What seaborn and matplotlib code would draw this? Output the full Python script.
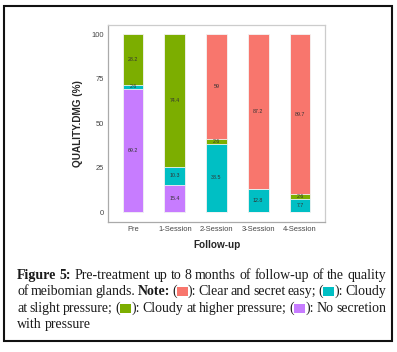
import numpy as np
import pandas as pd
import matplotlib
matplotlib.use("Agg")
import matplotlib.pyplot as plt
import seaborn as sns
from matplotlib.patches import Rectangle

# data
sessions = ["Pre", "1-Session", "2-Session", "3-Session", "4-Session"]
no_secretion = [69.2, 15.4, 0.0, 0.0, 0.0]       # purple
cloudy_slight = [2.6, 10.3, 38.5, 12.8, 7.7]     # cyan
cloudy_higher = [28.2, 74.4, 2.6, 0.0, 2.6]      # green
clear_easy = [0.0, 0.0, 59.0, 87.2, 89.7]        # red

layers = [("No secretion", no_secretion, "#C77CFF"),
          ("Cloudy slight", cloudy_slight, "#00BFC4"),
          ("Cloudy higher", cloudy_higher, "#7CAE00"),
          ("Clear easy", clear_easy, "#F8766D")]

W, H = 397, 352
sns.set_theme(style="white")
plt.rcParams["font.family"] = ["Liberation Sans", "DejaVu Sans"]
fig = plt.figure(figsize=(W / 100, H / 100), dpi=100)
ax = fig.add_axes([108 / W, 1 - 222 / H, 217 / W, 197 / H])

# stacked bars: draw cumulative totals from the top layer down
rows = []
bottom = np.zeros(len(sessions))
for name, vals, col in layers:
    top = bottom + np.array(vals)
    for s, b, t, v in zip(sessions, bottom, top, vals):
        rows.append(dict(session=s, layer=name, bottom=b, top=t, value=v))
    bottom = top
df = pd.DataFrame(rows)

for name, vals, col in reversed(layers):
    sub = df[df.layer == name]
    sns.barplot(data=sub, x="session", y="top", order=sessions, color=col,
                width=0.5, saturation=1, edgecolor="#f4f4f4", linewidth=0.6, ax=ax)

for _, r in df.iterrows():
    if r.value > 0:
        ax.text(sessions.index(r.session), (r.bottom + r.top) / 2, f"{r.value:g}",
                ha="center", va="center", fontsize=3.8, color="#333333")

ax.set_xlim(-0.6, 4.6)
ax.set_ylim(-5.5, 105.3)
ax.set_yticks([0, 25, 50, 75, 100])
ax.tick_params(axis="both", labelsize=5.4, colors="#444444", length=2, width=0.5, pad=1.2)
ax.tick_params(axis="both", color="#999999")
ax.set_xlabel("Follow-up", fontsize=7.2, fontweight="bold", labelpad=5)
ax.set_ylabel("QUALITY.DMG (%)", fontsize=7.2, fontweight="bold", labelpad=6)
for side in ["left", "bottom"]:
    ax.spines[side].set_color("#aaaaaa")
    ax.spines[side].set_linewidth(0.9)
for side in ["top", "right"]:
    ax.spines[side].set_color("#cccccc")
    ax.spines[side].set_linewidth(0.9)

# outer black frame
fig.patches.append(Rectangle((4 / W, 1 - 341 / H), 388 / W, 335 / H, transform=fig.transFigure,
                             fill=False, edgecolor="#111111", linewidth=1.5))

# caption, justified lines with bold runs and colour swatches
serif = ["Liberation Serif", "DejaVu Serif"]
fs = 10.0
caption = [
    [[("Figure", "bold")], [("5:", "bold")], [("Pre-treatment", "normal")], [("up", "normal")],
     [("to", "normal")], [("8", "normal")], [("months", "normal")], [("of", "normal")],
     [("follow-up", "normal")], [("of", "normal")], [("the", "normal")], [("quality", "normal")]],
    [[("of", "normal")], [("meibomian", "normal")], [("glands.", "normal")], [("Note:", "bold")],
     [("(", "normal"), ("box", "#F8766D"), ("):", "normal")], [("Clear", "normal")], [("and", "normal")],
     [("secret", "normal")], [("easy;", "normal")],
     [("(", "normal"), ("box", "#00BFC4"), ("):", "normal")], [("Cloudy", "normal")]],
    [[("at", "normal")], [("slight", "normal")], [("pressure;", "normal")],
     [("(", "normal"), ("box", "#7CAE00"), ("):", "normal")], [("Cloudy", "normal")], [("at", "normal")],
     [("higher", "normal")], [("pressure;", "normal")],
     [("(", "normal"), ("box", "#C77CFF"), ("):", "normal")], [("No", "normal")], [("secretion", "normal")]],
    [[("with", "normal")], [("pressure", "normal")]],
]
line_y = [279, 295, 312, 328]   # baselines in pixels from top
x0, x1 = 17, 386
box_w, box_h = 11, 9

fig.canvas.draw()
renderer = fig.canvas.get_renderer()


def run_width(text, weight):
    t = fig.text(0, 0, text, fontsize=fs, family=serif, fontweight=weight)
    w = t.get_window_extent(renderer).width
    t.remove()
    return w


space_w = 3.2
for li, (words, yb) in enumerate(zip(caption, line_y)):
    widths = []
    for word in words:
        widths.append(sum(box_w if txt == "box" else run_width(txt, wt) for txt, wt in word))
    justify = li < len(caption) - 1
    gap = (x1 - x0 - sum(widths)) / (len(words) - 1) if justify else space_w
    x = x0
    for word, ww in zip(words, widths):
        for txt, wt in word:
            if txt == "box":
                fig.patches.append(Rectangle((x / W, 1 - (yb + 1) / H), box_w / W, box_h / H,
                                             transform=fig.transFigure, color=wt, linewidth=0))
                x += box_w
            else:
                fig.text(x / W, 1 - yb / H, txt, fontsize=fs, family=serif, fontweight=wt,
                         ha="left", va="baseline", color="#1a1a1a")
                x += run_width(txt, wt)
        x += gap

fig.savefig("out.png", dpi=100)
